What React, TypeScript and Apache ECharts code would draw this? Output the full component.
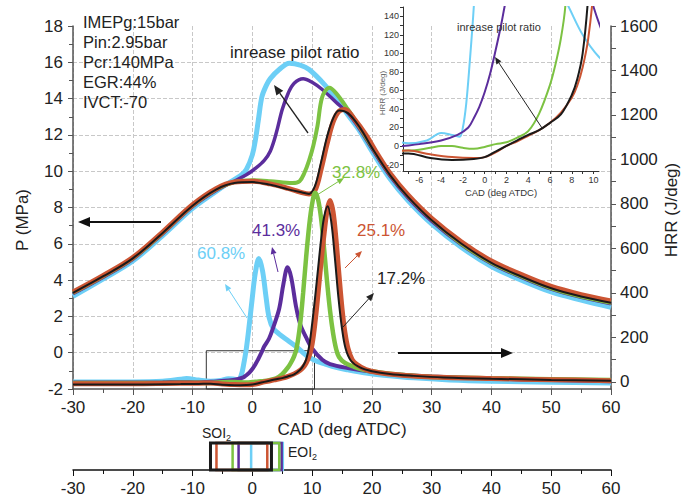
import React, { useEffect, useRef } from "react";
import * as echarts from "echarts";

// ---------- data ----------
// case order: black (17.2%), red (25.1%), green (32.8%), purple (41.3%), blue (60.8%)
const caseLabels = ["17.2%", "25.1%", "32.8%", "41.3%", "60.8%"];
const caseColors = ["#1a1a1a", "#cc5533", "#7cc242", "#5b2d9c", "#6dcff6"];

// Cylinder pressure P (MPa)
const pBlackX = [-30, -25, -20, -15, -10, -6, -3, 0, 3, 6, 8, 9.5, 10.5, 11.5, 12.5, 13.5, 14.5, 16, 18, 20, 23, 26, 30, 35, 40, 45, 50, 55, 60];
const pBlackY = [3.3, 4.2, 5.2, 6.6, 8.1, 9.0, 9.35, 9.4, 9.25, 9.0, 8.85, 8.75, 9.2, 10.5, 11.9, 12.9, 13.35, 13.2, 12.4, 11.3, 9.8, 8.6, 7.3, 6.0, 4.95, 4.2, 3.55, 3.1, 2.75];

const pRedX = [-30, -25, -20, -15, -10, -6, -3, 0, 3, 6, 8, 9.5, 10.5, 11.5, 12.5, 13.5, 14.5, 15.5, 17, 19, 21, 23, 26, 30, 35, 40, 45, 50, 55, 60];
const pRedY = [3.35, 4.25, 5.25, 6.65, 8.15, 9.05, 9.4, 9.45, 9.3, 9.05, 8.85, 8.75, 8.95, 10.1, 11.5, 12.7, 13.3, 13.4, 12.9, 12.0, 10.9, 9.9, 8.7, 7.4, 6.1, 5.05, 4.3, 3.65, 3.2, 2.85];

const pGreenX = [-30, -25, -20, -15, -10, -6, -3, 0, 3, 6.7, 7.9, 8.7, 9.5, 10.2, 10.9, 11.7, 12.9, 14, 16, 18, 20, 23, 26, 30, 35, 40, 45, 50, 55, 60];
const pGreenY = [3.3, 4.2, 5.2, 6.6, 8.1, 9.0, 9.4, 9.5, 9.45, 9.35, 9.45, 9.9, 10.6, 11.4, 12.5, 14.1, 14.6, 14.3, 13.4, 12.4, 11.35, 9.85, 8.65, 7.35, 6.0, 4.95, 4.2, 3.55, 3.1, 2.75];

const pPurpleX = [-30, -25, -20, -15, -10, -6, -3, -1, 0.5, 2, 3, 4, 5, 6, 7, 8.5, 10, 11.7, 14, 16, 18, 20, 23, 26, 30, 35, 40, 45, 50, 55, 60];
const pPurpleY = [3.25, 4.15, 5.15, 6.55, 8.05, 8.95, 9.45, 9.8, 10.15, 10.6, 11.1, 12.1, 13.4, 14.3, 14.85, 15.1, 14.9, 14.5, 13.8, 13.2, 12.3, 11.25, 9.75, 8.55, 7.25, 5.95, 4.9, 4.15, 3.5, 3.05, 2.7];

const pBlueX = [-30, -25, -20, -15, -10, -6, -4, -2, -1, 0, 0.5, 1, 1.6, 2.3, 3, 4.5, 6.2, 8, 9.5, 12, 14, 16, 18, 20, 23, 26, 30, 35, 40, 45, 50, 55, 60];
const pBlueY = [3.1, 4.05, 5.05, 6.45, 7.95, 8.9, 9.35, 9.75, 10.1, 10.9, 11.7, 12.8, 14.1, 14.7, 15.1, 15.6, 15.95, 15.85, 15.6, 14.8, 14.0, 13.1, 12.2, 11.1, 9.6, 8.4, 7.1, 5.8, 4.75, 4.0, 3.35, 2.9, 2.5];

// Heat release rate HRR (J/deg)
const hBlackX = [-30, -20, -12, -9, -7, -5, -3, -1, 0, 1, 2, 3, 4, 5, 6, 7, 8, 8.5, 9, 9.5, 10, 10.5, 11, 11.5, 12, 12.6, 13.2, 13.8, 14.4, 15, 15.6, 16.5, 18, 20, 23, 27, 32, 40, 50, 60];
const hBlackY = [-12, -12, -10, -9, -8, -13, -15, -14, -12, -6, 0, 6, 12, 17, 25, 34, 55, 72, 100, 160, 260, 380, 510, 640, 740, 790, 720, 560, 380, 240, 150, 95, 65, 48, 35, 27, 20, 14, 9, 5];

const hRedX = [-30, -20, -12, -9, -7, -5, -3, -1, 0, 1, 2, 3, 4, 5, 6, 7, 8, 8.5, 9, 9.5, 10, 10.5, 11, 11.5, 12, 12.5, 13, 13.5, 14, 14.5, 15, 15.5, 16, 16.7, 17.5, 19, 21, 25, 30, 40, 50, 60];
const hRedY = [-8, -8, -6, -6, -5, -9, -12, -13, -12, -7, 0, 5, 11, 17, 25, 36, 52, 65, 85, 115, 170, 270, 400, 540, 665, 770, 815, 765, 640, 480, 330, 220, 150, 100, 78, 55, 42, 30, 22, 15, 10, 5];

const hGreenX = [-30, -20, -12, -9, -7, -5, -4, -3, -2, -1, 0, 1, 2, 3, 4, 5, 6, 6.5, 7, 7.4, 8, 8.5, 9, 9.5, 10, 10.5, 11, 11.5, 12, 12.5, 13, 13.5, 14, 14.5, 15.5, 17, 19, 22, 26, 30, 40, 50, 60];
const hGreenY = [-5, -5, -4, -4, -5, -2, 0, 0, -2, -3, -1, 2, 4, 9, 16, 35, 66, 88, 116, 150, 260, 400, 560, 700, 800, 850, 820, 735, 600, 450, 320, 220, 150, 112, 85, 68, 52, 40, 30, 22, 16, 12, 8];

const hPurpleX = [-30, -20, -15, -12, -9, -7.5, -6, -4, -2.5, -1.5, -1, -0.5, 0, 0.5, 1, 1.5, 2, 2.8, 3.5, 4.5, 5.2, 5.9, 6.5, 7.3, 8, 9, 10, 11.7, 13, 16, 20, 25, 30, 40, 50, 60];
const hPurpleY = [-3, -3, -2, 0, -2, 0, 2, 6, 12, 20, 30, 42, 58, 78, 103, 130, 160, 195, 245, 330, 440, 515, 470, 340, 260, 200, 150, 99, 80, 62, 45, 32, 24, 15, 8, 3];

const hBlueX = [-30, -20, -15, -12, -11, -9, -7, -5.3, -4, -3, -2.3, -2, -1.7, -1.4, -1, -0.5, 0, 0.5, 1.1, 1.7, 2.3, 2.8, 3.5, 4.5, 6, 7.5, 9, 10.5, 12, 14, 16, 19, 22, 27, 33, 40, 50, 60];
const hBlueY = [0, 0, 3, 12, 15, 8, 3, 6, 14, 12, 10, 20, 45, 86, 150, 260, 380, 490, 555, 500, 380, 290, 240, 215, 185, 155, 120, 96, 82, 65, 54, 40, 30, 18, 9, 3, -2, -5];

// Injection windows (SOI2 / EOI2, deg ATDC)
const injSOI = [-7, -6, -3.3, -2.3, -0.2];
const injEOI = [3.2, 2.5, 4.5, 4.9, 5.1];

// Axis tick labels
const mainXTicks = [-30, -20, -10, 0, 10, 20, 30, 40, 50, 60];
const hrrLabels = [0, 200, 400, 600, 800, 1000, 1200, 1400, 1600];
const hrrTicks = [0, 100, 200, 300, 400, 500, 600, 700, 800, 900, 1000, 1100, 1200, 1300, 1400, 1500, 1600];
const insetXLabels = [-6, -4, -2, 0, 2, 4, 6, 8, 10];
const insetXTicks = [-7, -6, -5, -4, -3, -2, -1, 0, 1, 2, 3, 4, 5, 6, 7, 8, 9, 10];
const insetYLabels = [-20, 0, 20, 40, 60, 80, 100, 120, 140];
const insetYTicks = [-20, -10, 0, 10, 20, 30, 40, 50, 60, 70, 80, 90, 100, 110, 120, 130, 140, 150];

const conditions = ["IMEPg:15bar", "Pin:2.95bar", "Pcr:140MPa", "EGR:44%", "IVCT:-70"];

// ---------- helpers ----------
const FONT = "'Liberation Sans', Arial, Helvetica, sans-serif";
const zip = (xs: number[], ys: number[]) => xs.map((x, i) => [x, ys[i]]);
const plain = (v: number) => String(v);

const pData = [zip(pBlackX, pBlackY), zip(pRedX, pRedY), zip(pGreenX, pGreenY), zip(pPurpleX, pPurpleY), zip(pBlueX, pBlueY)];
const hData = [zip(hBlackX, hBlackY), zip(hRedX, hRedY), zip(hGreenX, hGreenY), zip(hPurpleX, hPurpleY), zip(hBlueX, hBlueY)];
const pWidths = [2, 5, 4, 3.5, 5];
const hWidths = [2, 5, 4.5, 4, 5];
const drawOrder = [4, 3, 2, 1, 0];

function arrow(x1: number, y1: number, x2: number, y2: number, color: string, lw: number, head: number) {
  const ang = Math.atan2(y2 - y1, x2 - x1);
  const hw = head * 0.42;
  const bx = x2 - head * Math.cos(ang);
  const by = y2 - head * Math.sin(ang);
  const px = -Math.sin(ang) * hw;
  const py = Math.cos(ang) * hw;
  return [
    { type: "line", z: 50, shape: { x1, y1, x2: bx, y2: by }, style: { stroke: color, lineWidth: lw } },
    { type: "polygon", z: 50, shape: { points: [[x2, y2], [bx + px, by + py], [bx - px, by - py]] }, style: { fill: color } },
  ];
}

function text(x: number, y: number, t: string, size: number, color: string, extra: any = {}) {
  return {
    type: "text",
    x,
    y,
    z: 50,
    ...extra,
    style: { text: t, fill: color, fontSize: size, fontFamily: FONT, textAlign: "left", verticalAlign: "middle", ...(extra.style || {}) },
  };
}

export default function App() {
  const ref = useRef<HTMLDivElement>(null);
  useEffect(() => {
    if (!ref.current) return;
    const chart = echarts.init(ref.current, undefined, { renderer: "svg" });

    const axisLineMain = { show: true, lineStyle: { color: "#555", width: 1.5 } };
    const labelMain = { fontSize: 17, color: "#222", fontFamily: FONT };

    const series: any[] = [];
    drawOrder.forEach((i) => {
      series.push({
        type: "line", name: "P " + caseLabels[i], xAxisIndex: 0, yAxisIndex: 0, data: pData[i],
        smooth: 0.35, showSymbol: false, silent: true,
        lineStyle: { color: caseColors[i], width: pWidths[i] }, z: 3,
      });
    });
    drawOrder.forEach((i) => {
      const s: any = {
        type: "line", name: "HRR " + caseLabels[i], xAxisIndex: 0, yAxisIndex: 1, data: hData[i],
        smooth: 0.35, showSymbol: false, silent: true,
        lineStyle: { color: caseColors[i], width: hWidths[i] }, z: 3,
      };
      if (i === 0) {
        s.markArea = {
          silent: true,
          itemStyle: { color: "rgba(0,0,0,0)", borderColor: "#333", borderWidth: 1 },
          data: [[{ coord: [-7.7, -32] }, { coord: [10.4, 140] }]],
        };
      }
      series.push(s);
    });
    drawOrder.forEach((i) => {
      series.push({
        type: "line", name: "inset " + caseLabels[i], xAxisIndex: 1, yAxisIndex: 2, data: hData[i],
        smooth: 0.35, showSymbol: false, silent: true, clip: true,
        lineStyle: { color: caseColors[i], width: 2 }, z: 4,
      });
    });
    series.push({
      type: "custom", name: "injection", xAxisIndex: 2, yAxisIndex: 3, silent: true,
      data: drawOrder.map((i) => [injSOI[i], injEOI[i], i]),
      encode: { x: [0, 1] },
      renderItem: (params: any, api: any) => {
        const s = api.value(0);
        const e = api.value(1);
        const idx = api.value(2);
        const p1 = api.coord([s, 1]);
        const p2 = api.coord([e, 0]);
        return {
          type: "rect",
          shape: { x: p1[0], y: p1[1], width: p2[0] - p1[0], height: p2[1] - p1[1] },
          style: { fill: "none", stroke: caseColors[idx], lineWidth: idx === 0 ? 3 : 2.5 },
        };
      },
    });

    const graphics: any[] = [];
    conditions.forEach((c, k) => graphics.push(text(83, 22 + k * 20, c, 16.5, "#222")));
    graphics.push(text(230, 52, "inrease pilot ratio", 17, "#222"));
    graphics.push(...arrow(308, 133, 274, 85, "#222", 1.3, 10));
    graphics.push(...arrow(161, 222, 78, 222, "#111", 2, 12));
    graphics.push(...arrow(398, 353, 513, 353, "#111", 2, 12));
    // percentage labels
    graphics.push(text(332, 172, caseLabels[2], 17, caseColors[2]));
    graphics.push(...arrow(317, 195, 344, 178, caseColors[2], 1, 7));
    graphics.push(text(252, 230, caseLabels[3], 17, caseColors[3]));
    graphics.push(...arrow(278, 272, 272, 247, caseColors[3], 1, 7));
    graphics.push(text(357, 230, caseLabels[1], 17, caseColors[1]));
    graphics.push(...arrow(345, 268, 362, 251, caseColors[1], 1, 7));
    graphics.push(text(197, 253, caseLabels[4], 17, caseColors[4]));
    graphics.push(...arrow(247, 318, 225, 284, caseColors[4], 1, 7));
    graphics.push(text(377, 278, caseLabels[0], 17, "#222"));
    graphics.push(...arrow(343, 327, 374, 293, "#222", 1, 8));
    // inset annotations
    graphics.push(text(457, 27, "inrease pilot ratio", 11, "#333"));
    graphics.push(...arrow(542, 128, 495, 57, "#222", 1, 7));
    graphics.push(text(382, 93, "HRR (J/deg)", 8, "#666", { rotation: Math.PI / 2, style: { textAlign: "center" } }));
    // axis titles
    graphics.push(text(22, 220, "P (MPa)", 17, "#222", { rotation: Math.PI / 2, style: { textAlign: "center" } }));
    graphics.push(text(671, 210, "HRR (J/deg)", 17, "#222", { rotation: Math.PI / 2, style: { textAlign: "center" } }));
    // SOI2 / EOI2
    const sub = (main: string, x: number, y: number) => ({
      type: "text", x, y, z: 50,
      style: {
        text: "{a|" + main + "}{b|2}", fill: "#222", fontFamily: FONT, verticalAlign: "middle",
        rich: { a: { fontSize: 14, fontFamily: FONT, fill: "#222" }, b: { fontSize: 9, fontFamily: FONT, fill: "#222", padding: [10, 0, 0, 0] } },
      },
    });
    graphics.push(sub("SOI", 202, 433));
    graphics.push(sub("EOI", 288, 452));

    chart.setOption({
      animation: false,
      backgroundColor: "#fff",
      grid: [
        { left: 73, top: 26, width: 538, height: 363 },
        { left: 403, top: 7, width: 196, height: 164 },
        { left: 73, top: 443, width: 538, height: 27 },
      ],
      xAxis: [
        {
          gridIndex: 0, type: "value", min: -30, max: 60, interval: 10,
          axisLine: { ...axisLineMain, onZero: false },
          axisTick: { show: true, length: 6, lineStyle: { color: "#555" } },
          minorTick: { show: true, splitNumber: 2, length: 4, lineStyle: { color: "#555" } },
          axisLabel: { ...labelMain, margin: 10, customValues: mainXTicks, formatter: plain },
          splitLine: { show: true, lineStyle: { type: "dashed", color: "#c8c8c8", width: 1 } },
          name: "CAD (deg ATDC)", nameLocation: "middle", nameGap: 25,
          nameTextStyle: { fontSize: 17, color: "#222", fontFamily: FONT, verticalAlign: "top" },
        },
        {
          gridIndex: 1, type: "value", min: -7.5, max: 10.5,
          axisLine: { show: true, onZero: false, lineStyle: { color: "#333", width: 1 } },
          axisTick: { show: true, length: 3, customValues: insetXTicks, lineStyle: { color: "#333" } },
          axisLabel: { fontSize: 9, color: "#333", fontFamily: FONT, margin: 4, customValues: insetXLabels, formatter: plain },
          splitLine: { show: false },
          name: "CAD (deg ATDC)", nameLocation: "middle", nameGap: 16,
          nameTextStyle: { fontSize: 9.5, color: "#333", fontFamily: FONT, verticalAlign: "top" },
        },
        {
          gridIndex: 2, type: "value", min: -30, max: 60, interval: 10,
          axisLine: { show: true, onZero: false, lineStyle: { color: "#111", width: 1.5 } },
          axisTick: { show: true, length: 6, lineStyle: { color: "#111" } },
          minorTick: { show: true, splitNumber: 2, length: 4, lineStyle: { color: "#111" } },
          axisLabel: { ...labelMain, margin: 10, formatter: plain },
          splitLine: { show: false },
        },
      ],
      yAxis: [
        {
          gridIndex: 0, type: "value", min: -2, max: 18, interval: 2,
          axisLine: { ...axisLineMain, onZero: false },
          axisTick: { show: true, length: 5, lineStyle: { color: "#555" } },
          minorTick: { show: true, splitNumber: 2, length: 4, lineStyle: { color: "#555" } },
          axisLabel: { ...labelMain, margin: 10, formatter: plain },
          splitLine: { show: true, showMinLine: false, showMaxLine: false, lineStyle: { type: "dashed", color: "#c8c8c8", width: 1 } },
        },
        {
          gridIndex: 0, type: "value", position: "right", min: -32, max: 1600,
          axisLine: { ...axisLineMain, onZero: false },
          axisTick: { show: true, length: 5, customValues: hrrTicks, lineStyle: { color: "#555" } },
          axisLabel: { ...labelMain, margin: 9, customValues: hrrLabels, formatter: plain },
          splitLine: { show: false },
        },
        {
          gridIndex: 1, type: "value", min: -27, max: 150,
          axisLine: { show: true, onZero: false, lineStyle: { color: "#333", width: 1 } },
          axisTick: { show: true, length: 3, customValues: insetYTicks, lineStyle: { color: "#333" } },
          axisLabel: { fontSize: 9, color: "#333", fontFamily: FONT, margin: 4, customValues: insetYLabels, formatter: plain },
          splitLine: { show: false },
        },
        { gridIndex: 2, type: "value", min: 0, max: 1, show: false },
      ],
      graphic: graphics,
      series,
    });
    return () => chart.dispose();
  }, []);
  return <div ref={ref} style={{ position: "fixed", left: 0, top: 0, width: 687, height: 503 }} />;
}
